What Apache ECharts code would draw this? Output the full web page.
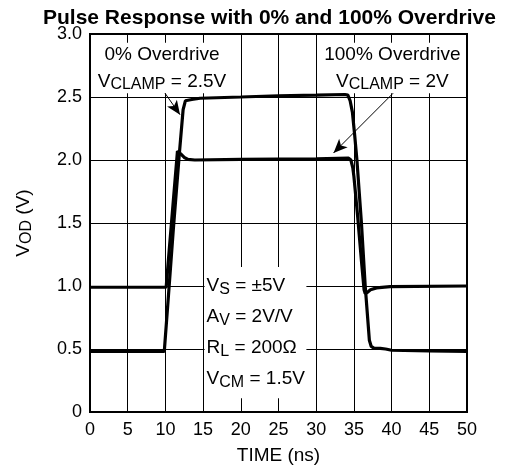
<!DOCTYPE html>
<html>
<head>
<meta charset="utf-8">
<script src="https://cdn.jsdelivr.net/npm/echarts@6/dist/echarts.min.js"></script>
<style>html,body{margin:0;padding:0;background:#fff;}#c{width:509px;height:474px;}</style>
</head>
<body>
<div id="c"></div>
<script>
// Curve: 0% overdrive, VCLAMP = 2.5V
const timeA = [0, 9.85, 10.4, 11.05, 11.85, 12.35, 12.65, 13.5, 14.6, 20, 25, 30, 33.8, 34.2, 34.5, 34.8, 35.1, 35.4, 36.0, 36.5, 37.05, 37.3, 37.7, 38.5, 39.2, 40, 45, 50];
const voltA = [0.48, 0.48, 0.92, 1.45, 2.05, 2.40, 2.47, 2.48, 2.49, 2.50, 2.51, 2.515, 2.52, 2.515, 2.47, 2.38, 2.2, 2.0, 1.5, 1.0, 0.57, 0.52, 0.505, 0.505, 0.50, 0.49, 0.485, 0.48];
// Curve: 100% overdrive, VCLAMP = 2V
const timeB = [0, 10.1, 10.5, 11.0, 11.6, 12.0, 12.5, 13.0, 13.9, 20, 30, 34.3, 34.6, 34.85, 35.0, 35.5, 36.0, 36.35, 36.5, 36.8, 37.2, 38.0, 39.8, 50];
const voltB = [0.99, 0.99, 1.28, 1.64, 2.07, 2.05, 2.02, 2.005, 2.0, 2.005, 2.01, 2.015, 2.0, 1.94, 1.87, 1.55, 1.2, 0.97, 0.94, 0.95, 0.97, 0.985, 0.995, 1.0];
const xTicks = [0, 5, 10, 15, 20, 25, 30, 35, 40, 45, 50];
const yTicks = [0, 0.5, 1.0, 1.5, 2.0, 2.5, 3.0];

const FONT = 'Liberation Sans';
const zip = (t, v) => t.map((x, i) => [x, v[i]]);
const rich = {
  m: { fontFamily: FONT, fontSize: 19, color: '#000' },
  sub: { fontFamily: FONT, fontSize: 16, color: '#000', padding: [6, 0, 0, 0] }
};

const chart = echarts.init(document.getElementById('c'), null, { renderer: 'canvas' });
chart.setOption({
  animation: false,
  backgroundColor: '#fff',
  title: {
    text: 'Pulse Response with 0% and 100% Overdrive',
    left: 38, top: 3,
    textStyle: { fontFamily: FONT, fontSize: 21, fontWeight: 'bold', color: '#000' }
  },
  grid: { left: 90, right: 42, top: 34, bottom: 62, show: true, borderColor: '#000', borderWidth: 2, backgroundColor: 'transparent' },
  xAxis: {
    type: 'value', min: xTicks[0], max: xTicks[xTicks.length - 1], interval: 5,
    name: 'TIME (ns)', nameLocation: 'middle', nameGap: 34,
    nameTextStyle: { fontFamily: FONT, fontSize: 19, color: '#000' },
    axisLine: { show: false }, axisTick: { show: false },
    axisLabel: { fontFamily: FONT, fontSize: 18, color: '#000', margin: 9 },
    splitLine: { show: true, lineStyle: { color: '#000', width: 1 } }
  },
  yAxis: {
    type: 'value', min: yTicks[0], max: yTicks[yTicks.length - 1], interval: 0.5,
    name: '{m|V}{sub|OD}{m| (V)}', nameLocation: 'middle', nameGap: 55, nameRotate: 90,
    nameTextStyle: { rich: rich },
    axisLine: { show: false }, axisTick: { show: false },
    axisLabel: { fontFamily: FONT, fontSize: 18, color: '#000', margin: 8,
      formatter: v => v === 0 ? '0' : v.toFixed(1) },
    splitLine: { show: true, lineStyle: { color: '#000', width: 1 } }
  },
  series: [
    {
      type: 'line', data: zip(timeA, voltA), showSymbol: false, symbol: 'none',
      lineStyle: { color: '#000', width: 3.2 }, z: 3,
      markArea: {
        silent: true,
        itemStyle: { color: '#fff', opacity: 1, borderWidth: 0 },
        label: { show: true, position: 'inside', color: '#000', fontFamily: FONT, fontSize: 19, lineHeight: 27, rich: rich },
        data: [
          [{ xAxis: 0.3, yAxis: 2.93, label: { formatter: '{m|0% Overdrive}\n{m|V}{sub|CLAMP}{m| = 2.5V}' } }, { xAxis: 18.8, yAxis: 2.53 }],
          [{ xAxis: 30.5, yAxis: 2.93, label: { formatter: '{m|100% Overdrive}\n{m|V}{sub|CLAMP}{m| = 2V}' } }, { xAxis: 49.7, yAxis: 2.53 }],
          [{ xAxis: 15.2, yAxis: 1.15, label: { position: 'insideLeft', distance: 2, lineHeight: 31,
              formatter: '{m|V}{sub|S}{m| = ±5V}\n{m|A}{sub|V}{m| = 2V/V}\n{m|R}{sub|L}{m| = 200Ω}\n{m|V}{sub|CM}{m| = 1.5V}' } },
           { xAxis: 28.7, yAxis: 0.11 }]
        ]
      },
      markLine: {
        silent: true, symbol: ['none', 'arrow'], symbolSize: [9, 14],
        lineStyle: { color: '#000', width: 1, type: 'solid' },
        label: { show: false },
        data: [
          [{ coord: [9.95, 2.53] }, { coord: [11.94, 2.36] }],
          [{ coord: [40.2, 2.53] }, { coord: [32.3, 2.056] }]
        ]
      }
    },
    {
      type: 'line', data: zip(timeB, voltB), showSymbol: false, symbol: 'none',
      lineStyle: { color: '#000', width: 3.2 }, z: 3
    }
  ]
});
</script>
</body>
</html>
